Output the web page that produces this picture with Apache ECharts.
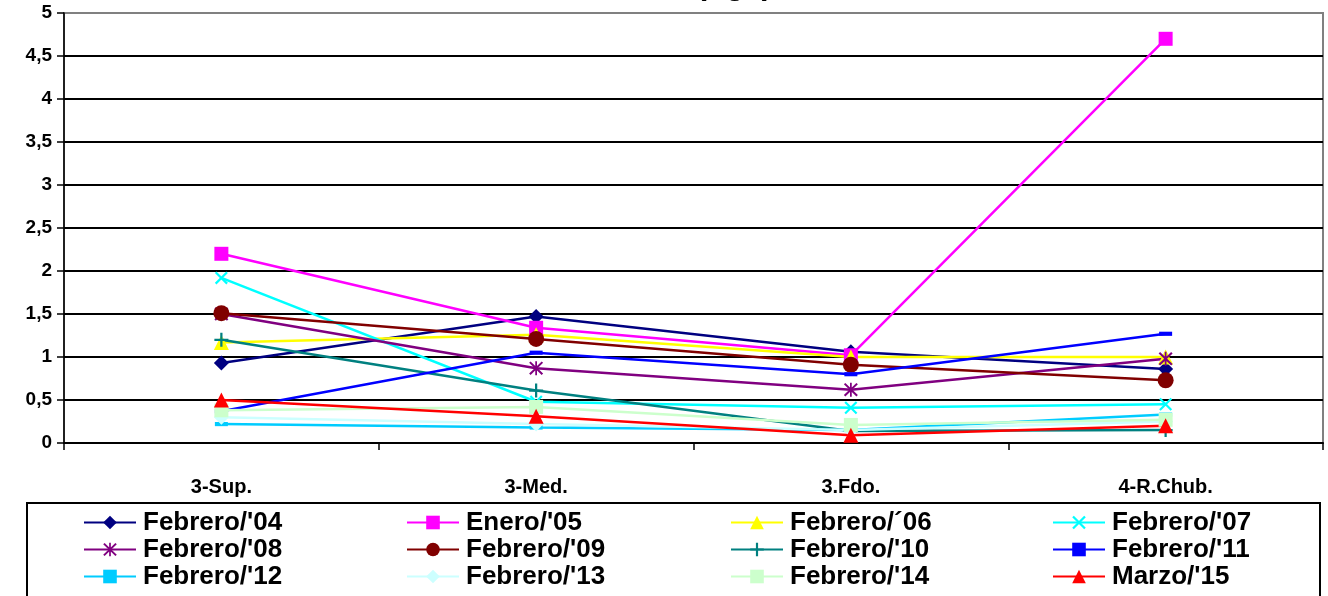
<!DOCTYPE html>
<html><head><meta charset="utf-8">
<script src="https://cdn.jsdelivr.net/npm/echarts@6/dist/echarts.min.js"></script>
<style>html,body{margin:0;padding:0;background:#fff}#c{width:1328px;height:596px}</style>
</head><body><div id="c"></div>
<script>
const titleText = 'Clorofila a (ug/l)';
const categories = ['3-Sup.', '3-Med.', '3.Fdo.', '4-R.Chub.'];
const seriesNames = ["Febrero/'04", "Enero/'05", "Febrero/´06", "Febrero/'07",
                     "Febrero/'08", "Febrero/'09", "Febrero/'10", "Febrero/'11",
                     "Febrero/'12", "Febrero/'13", "Febrero/'14", "Marzo/'15"];
const feb04 = [0.93, 1.47, 1.06, 0.86];
const ene05 = [2.20, 1.34, 1.02, 4.70];
const feb06 = [1.17, 1.26, 1.00, 1.00];
const feb07 = [1.92, 0.48, 0.41, 0.45];
const feb08 = [1.50, 0.87, 0.62, 0.98];
const feb09 = [1.51, 1.21, 0.91, 0.73];
const feb10 = [1.20, 0.61, 0.14, 0.15];
const feb11 = [0.37, 1.05, 0.80, 1.27];
const feb12 = [0.22, 0.18, 0.15, 0.33];
const feb13 = [0.30, 0.22, 0.15, 0.25];
const feb14 = [0.38, 0.42, 0.21, 0.27];
const mar15 = [0.50, 0.31, 0.09, 0.20];
const yMin = 0, yMax = 5, yStep = 0.5;

const allData = [feb04, ene05, feb06, feb07, feb08, feb09, feb10, feb11, feb12, feb13, feb14, mar15];

const SYM_X = 'path://M0,1.2L1.2,0L10,8.8L8.8,10ZM8.8,0L10,1.2L1.2,10L0,8.8Z';
const SYM_STAR = 'path://M4.4,0H5.6V10H4.4ZM0.2,1.2L1.2,0.2L9.8,8.8L8.8,9.8ZM8.8,0.2L9.8,1.2L1.2,9.8L0.2,8.8Z';
const SYM_PLUS = 'path://M4.2,0H5.8V10H4.2ZM0,4.2H10V5.8H0Z';
const SYM_DASH = 'path://M0,0H10V3.2H0Z';
const styles = [
  {color:'#000080', symbol:'diamond', size:15},
  {color:'#FF00FF', symbol:'rect', size:14},
  {color:'#FFFF00', symbol:'triangle', size:15},
  {color:'#00FFFF', symbol:SYM_X, size:13},
  {color:'#800080', symbol:SYM_STAR, size:14},
  {color:'#800000', symbol:'circle', size:16},
  {color:'#008080', symbol:SYM_PLUS, size:14},
  {color:'#0000FF', symbol:SYM_DASH, size:13, keep:true},
  {color:'#00CCFF', symbol:SYM_DASH, size:13, keep:true},
  {color:'#CCFFFF', symbol:'diamond', size:15},
  {color:'#CCFFCC', symbol:'rect', size:14},
  {color:'#FF0000', symbol:'triangle', size:15}
];
const FONT = '"Liberation Sans", Arial, sans-serif';

const series = seriesNames.map((name, i) => ({
  name, type:'line', data: allData[i],
  symbol: styles[i].symbol, symbolSize: styles[i].size,
  symbolKeepAspect: !!styles[i].keep,
  itemStyle:{color: styles[i].color},
  lineStyle:{color: styles[i].color, width: 2.5},
  emphasis:{disabled:true}, animation:false
}));

const colLeft = [83, 406, 730, 1052];
const legends = colLeft.map((left, c) => ({
  orient:'vertical', left, top: 509, padding: 0, itemGap: 0,
  itemWidth: 52, itemHeight: 17,
  data: [seriesNames[c], seriesNames[c+4], seriesNames[c+8]],
  textStyle:{fontSize:26, fontWeight:'bold', fontFamily:FONT, color:'#000', lineHeight:27, padding:[0,0,0,2]},
  selectedMode:false
}));

const splitColors = [];
for (let v = yMin; v <= yMax + 1e-9; v += yStep) splitColors.push(v >= yMax - 1e-9 ? '#808080' : '#000');

const chart = echarts.init(document.getElementById('c'), null, {renderer:'canvas'});
chart.setOption({
  animation:false,
  backgroundColor:'#fff',
  grid:{left:64, right:5, top:13, bottom:153, show:true, borderColor:'#808080', borderWidth:2, backgroundColor:'transparent'},
  xAxis:{type:'category', data:categories, boundaryGap:true,
    axisLine:{lineStyle:{color:'#000', width:2}},
    axisTick:{show:true, length:7, interval:0, lineStyle:{color:'#000', width:1.5}},
    axisLabel:{margin:34, fontSize:20, fontWeight:'bold', fontFamily:FONT, color:'#000', interval:0},
    splitLine:{show:false}},
  yAxis:{type:'value', min:yMin, max:yMax, interval:yStep,
    axisLine:{show:true, lineStyle:{color:'#000', width:1.5}},
    axisTick:{show:true, length:7, lineStyle:{color:'#000', width:1.5}},
    axisLabel:{margin:12, fontSize:19, fontWeight:'bold', fontFamily:FONT, color:'#000',
      formatter: v => String(v).replace('.', ',')},
    splitLine:{show:true, lineStyle:{color:splitColors, width:2}}},
  legend: legends,
  graphic:[
    {type:'rect', shape:{x:27, y:503, width:1293, height:110}, style:{fill:'none', stroke:'#000', lineWidth:2}, silent:true},
    {type:'text', x:654, y:1, style:{text:titleText, fill:'#000', font:'bold 31px ' + FONT, align:'center', verticalAlign:'bottom'}, silent:true}
  ],
  series
});
</script></body></html>
